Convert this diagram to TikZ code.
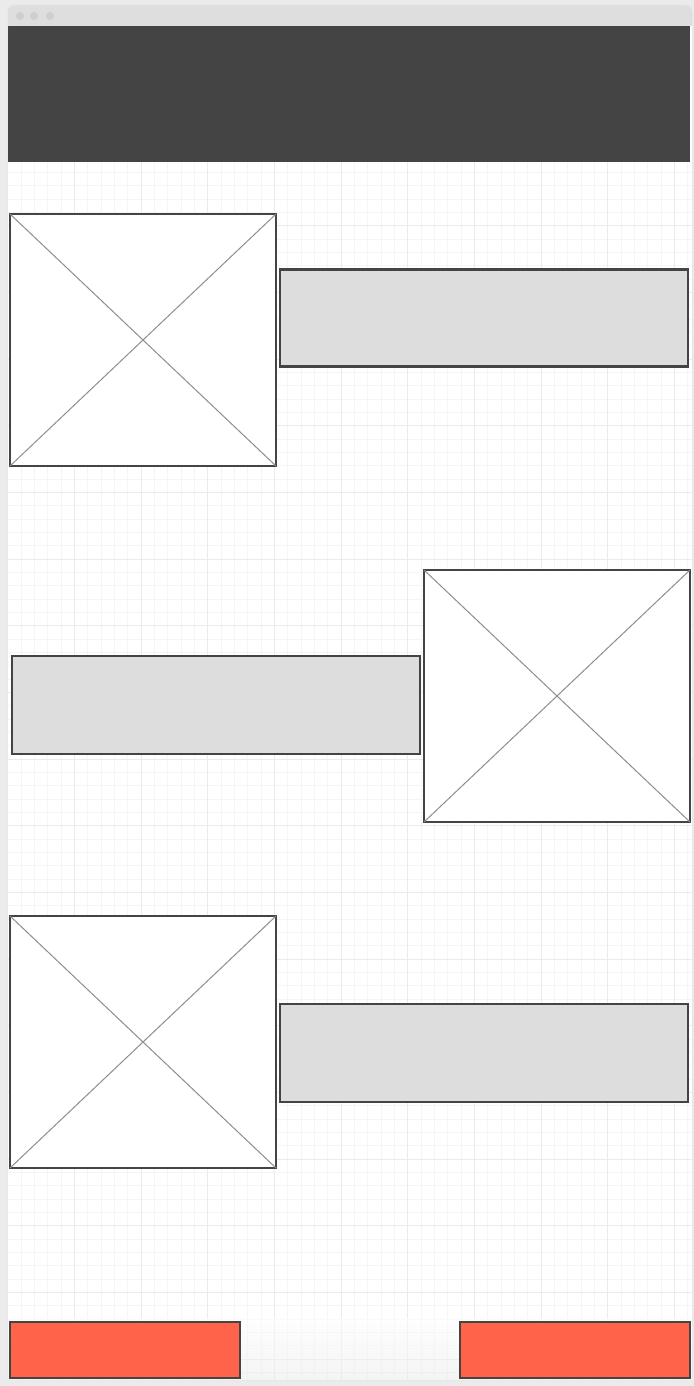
\documentclass[tikz,border=0pt]{standalone}
\usepackage{tikz}
\definecolor{pagegray}{HTML}{EBEBEB}
\definecolor{bargray}{HTML}{DEDEDE}
\definecolor{dotgray}{HTML}{CFCFCF}
\definecolor{headdark}{HTML}{444444}
\definecolor{edgedark}{HTML}{444444}
\definecolor{crossgray}{HTML}{8E8E8E}
\definecolor{boxgray}{HTML}{DDDDDD}
\definecolor{btnred}{HTML}{FF634A}
\definecolor{gridminor}{HTML}{F5F5F5}
\definecolor{gridmajor}{HTML}{EBEBEB}
\tikzstyle{imgbox} = [draw=edgedark, fill=white, line width=1.15pt, rectangle, inner sep=0pt, outer sep=0pt, anchor=north west, minimum width=133pt, minimum height=126pt]
\tikzstyle{textbar} = [draw=edgedark, fill=boxgray, line width=1.15pt, rectangle, inner sep=0pt, outer sep=0pt, anchor=north west, minimum width=204pt, minimum height=49pt]
\tikzstyle{redbtn} = [draw=edgedark, fill=btnred, line width=1.15pt, rectangle, inner sep=0pt, outer sep=0pt, anchor=north west, minimum width=115pt, minimum height=28pt]
\tikzstyle{crossline} = [draw=crossgray, line width=0.5pt]

\begin{document}
\begin{tikzpicture}[x=0.5pt, y=-0.5pt]
\useasboundingbox (0,0) rectangle (694,1386);
% page and browser window
\fill[pagegray] (0,0) rectangle (694,1386);
\fill[black!9, rounded corners=3] (7,4.5) rectangle (693,1381);
\fill[bargray, rounded corners=3] (8,5.5) rectangle (692,30);
\fill[white] (8,26) rectangle (692,1380);
\foreach \x in {20,34,50}
    \fill[dotgray] (\x,16) circle (4);
% grid
\foreach \i in {1,...,51}
    \draw[gridminor, line width=0.5pt] ({8+13.333*\i},162) -- ({8+13.333*\i},1380);
\foreach \j in {11,...,101}
    \draw[gridminor, line width=0.5pt] (8,{26+13.333*\j}) -- (692,{26+13.333*\j});
\foreach \i in {5,10,...,50}
    \draw[gridmajor, line width=0.5pt] ({8+13.333*\i},162) -- ({8+13.333*\i},1380);
\foreach \j in {15,20,...,100}
    \draw[gridmajor, line width=0.5pt] (8,{26+13.333*\j}) -- (692,{26+13.333*\j});
\shade[top color=white, bottom color=black!8, fill opacity=0.5] (8,1318) rectangle (692,1380);
% header
\fill[headdark] (8,26) rectangle (690,162);
% rows
\node[imgbox] (img1) at (10,214) {};
\node[textbar, minimum height=48.5pt] (bar1) at (280,269.5) {};
\node[textbar] (bar2) at (12,656) {};
\node[imgbox] (img2) at (424,570) {};
\node[imgbox] (img3) at (10,916) {};
\node[textbar] (bar3) at (280,1004) {};
\foreach \n in {img1,img2,img3}
    \draw[crossline] (\n.north west) -- (\n.south east) (\n.north east) -- (\n.south west);
% buttons
\node[redbtn] (btnleft) at (10,1322) {};
\node[redbtn] (btnright) at (460,1322) {};
\end{tikzpicture}
\end{document}
